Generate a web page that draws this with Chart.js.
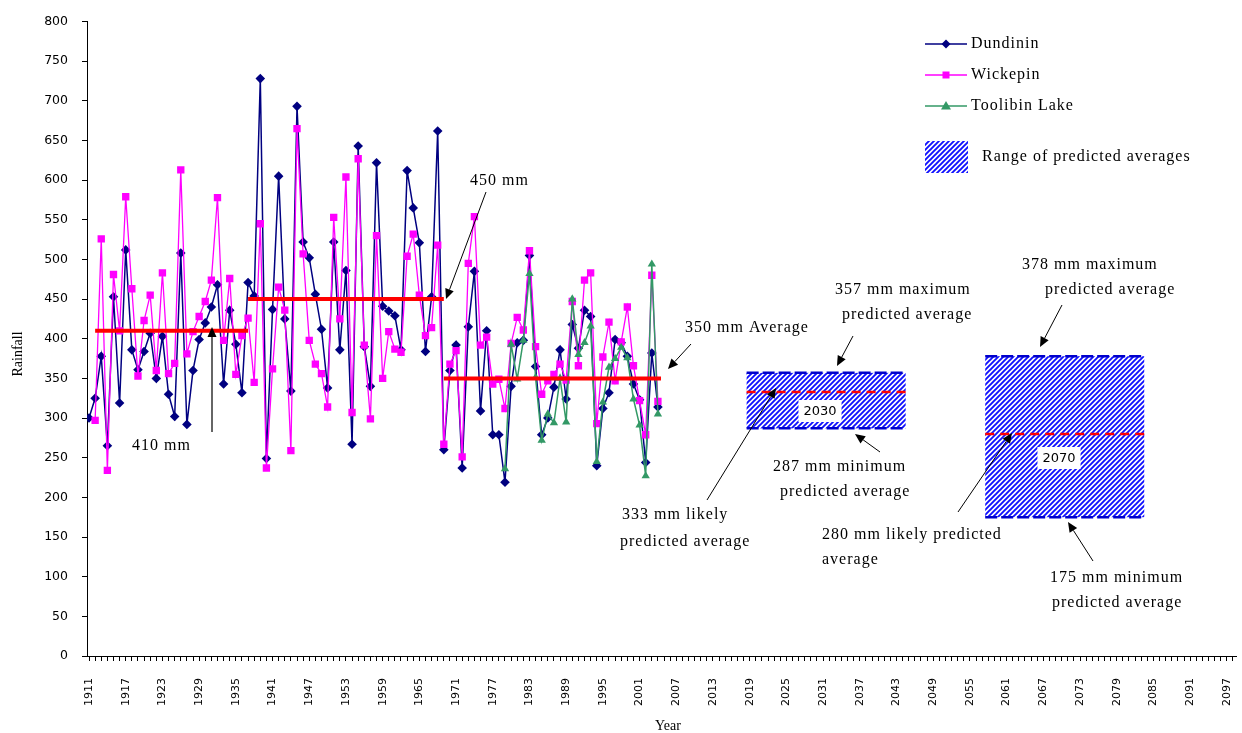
<!DOCTYPE html>
<html>
<head>
<meta charset="utf-8">
<title>Rainfall</title>
<script src="https://cdn.jsdelivr.net/npm/chart.js@4.4.1/dist/chart.umd.min.js"></script>
<style>
  html, body { margin: 0; padding: 0; background: #ffffff; }
  #wrap { width: 1242px; height: 733px; }
</style>
</head>
<body>
<div id="wrap"><canvas id="chart" width="1242" height="733"></canvas></div>
<script>
// ---- annual rainfall (mm), one value per year starting 1911 ----
const firstYear = 1911;
const dundinin = [
  300, 325, 378, 265, 453, 319, 512, 386, 361, 384,
  407, 350, 403, 330, 302, 508, 292, 360, 399, 420,
  440, 468, 343, 436, 393, 332, 471, 454, 728, 249,
  437, 605, 425, 334, 693, 522, 502, 456, 412, 338,
  522, 386, 486, 267, 643, 390, 340, 622, 441, 435,
  429, 386, 612, 565, 521, 384, 453, 662, 260, 360,
  392, 237, 415, 485, 309, 410, 279, 279, 219, 340,
  395, 398, 505, 365, 279, 300, 339, 386, 324, 418,
  388, 436, 428, 240, 312, 332, 399, 395, 378, 343,
  323, 244, 382, 314
];
const wickepin = [
  null, 297, 526, 234, 481, 410, 579, 463, 353, 423,
  455, 360, 483, 356, 369, 613, 381, 409, 428, 447,
  474, 578, 398, 476, 355, 404, 426, 345, 545, 237,
  362, 465, 436, 259, 665, 507, 398, 368, 356, 314,
  553, 425, 604, 307, 627, 392, 299, 530, 350, 409,
  387, 383, 504, 532, 455, 404, 414, 518, 267, 368,
  385, 251, 495, 554, 392, 402, 343, 349, 312, 394,
  427, 411, 511, 390, 330, 347, 355, 368, 348, 447,
  366, 474, 483, 293, 377, 421, 347, 396, 440, 366,
  322, 279, 480, 321
];
// Toolibin Lake record starts in 1979
const toolibinStart = 1979;
const toolibin = [
  236, 393, 349, 398, 482, 351, 272, 305, 294, 350,
  295, 450, 380, 395, 416, 245, 320, 364, 375, 389,
  376, 324, 291, 227, 494, 305
];

// ---- period averages ----
const avgFrom  = [1912, 1937, 1969];
const avgTo    = [1937, 1969, 2004.5];
const avgValue = [410, 450, 350];

// ---- predicted averages for 2030 and 2070 ----
const predLabel  = ['2030', '2070'];
const predFrom   = [2018.5, 2057.5];
const predTo     = [2044.5, 2083.5];
const predMax    = [357, 378];
const predMin    = [287, 175];
const predLikely = [333, 280];

// ---- axis ----
const yearMin = 1910.67, yearMax = 2098.63, firstTick = 1911, labelEvery = 6;
const yMin = 0, yMax = 800, yStep = 50;

const toPoints = (arr, start) => arr.map((v, i) => ({ x: start + i, y: v }));

const NAVY = '#000080', MAGENTA = '#ff00ff', GREEN = '#339966', RED = '#ff0000';
const SERIF = '"Liberation Serif", "Times New Roman", serif';
const SANS = '"DejaVu Sans", Verdana, sans-serif';

const datasets = [];
avgValue.forEach((v, i) => {
  datasets.push({
    label: 'avg' + i,
    data: [{ x: avgFrom[i], y: v }, { x: avgTo[i], y: v }],
    borderColor: RED, borderWidth: 4, pointRadius: 0, order: 0
  });
});
datasets.push({
  label: 'Toolibin Lake', data: toPoints(toolibin, toolibinStart),
  borderColor: GREEN, backgroundColor: GREEN, borderWidth: 1.5,
  pointStyle: 'triangle', pointRadius: 4.8, pointBorderWidth: 0, order: 1
});
datasets.push({
  label: 'Wickepin', data: toPoints(wickepin, firstYear),
  borderColor: MAGENTA, backgroundColor: MAGENTA, borderWidth: 1.3,
  pointStyle: 'rect', pointRadius: 5.2, pointBorderWidth: 0, order: 2
});
datasets.push({
  label: 'Dundinin', data: toPoints(dundinin, firstYear),
  borderColor: NAVY, backgroundColor: NAVY, borderWidth: 1.5,
  pointStyle: 'rectRot', pointRadius: 4.8, pointBorderWidth: 0, order: 3
});

function makeHatch(ctx) {
  const s = 5;
  const c = document.createElement('canvas');
  c.width = s; c.height = s;
  const g = c.getContext('2d');
  g.fillStyle = '#ffffff'; g.fillRect(0, 0, s, s);
  g.strokeStyle = '#1010ff'; g.lineWidth = 1.9;
  g.beginPath();
  g.moveTo(-1, s + 1); g.lineTo(s + 1, -1);
  g.moveTo(-1, 1); g.lineTo(1, -1);
  g.moveTo(s - 1, s + 1); g.lineTo(s + 1, s - 1);
  g.stroke();
  return ctx.createPattern(c, 'repeat');
}

function arrow(ctx, x1, y1, x2, y2, color, width) {
  const ang = Math.atan2(y2 - y1, x2 - x1);
  const hl = 10, hw = 4.5;
  const bx = x2 - hl * Math.cos(ang), by = y2 - hl * Math.sin(ang);
  ctx.save();
  ctx.strokeStyle = color; ctx.lineWidth = width;
  ctx.beginPath(); ctx.moveTo(x1, y1); ctx.lineTo(bx, by); ctx.stroke();
  ctx.fillStyle = '#000';
  ctx.beginPath();
  ctx.moveTo(x2, y2);
  ctx.lineTo(bx + hw * Math.sin(ang), by - hw * Math.cos(ang));
  ctx.lineTo(bx - hw * Math.sin(ang), by + hw * Math.cos(ang));
  ctx.closePath(); ctx.fill();
  ctx.restore();
}

function text(ctx, str, x, y, font) {
  ctx.save();
  ctx.font = font || ('16px ' + SERIF);
  if ('letterSpacing' in ctx) ctx.letterSpacing = '1px';
  ctx.fillStyle = '#000'; ctx.textAlign = 'left'; ctx.textBaseline = 'middle';
  ctx.fillText(str, x, y);
  ctx.restore();
}

// hatched prediction ranges with dashed limits and likely value
const predictionBoxes = {
  id: 'predictionBoxes',
  beforeDatasetsDraw(chart) {
    const { ctx, scales: { x, y } } = chart;
    const pat = makeHatch(ctx);
    predLabel.forEach((lab, i) => {
      const x0 = x.getPixelForValue(predFrom[i]), x1 = x.getPixelForValue(predTo[i]);
      const yTop = y.getPixelForValue(predMax[i]), yBot = y.getPixelForValue(predMin[i]);
      const yMid = y.getPixelForValue(predLikely[i]);
      ctx.save();
      ctx.fillStyle = pat;
      ctx.fillRect(x0, yTop, x1 - x0, yBot - yTop);
      ctx.lineWidth = 2.5; ctx.strokeStyle = '#0000cc'; ctx.setLineDash([12, 4]);
      ctx.beginPath();
      ctx.moveTo(x0, yTop); ctx.lineTo(x1, yTop);
      ctx.moveTo(x0, yBot); ctx.lineTo(x1, yBot);
      ctx.stroke();
      ctx.strokeStyle = RED; ctx.setLineDash([9, 6]); ctx.lineWidth = 2.5;
      ctx.beginPath(); ctx.moveTo(x0, yMid); ctx.lineTo(x1, yMid); ctx.stroke();
      ctx.restore();
    });
  },
  afterDatasetsDraw(chart) {
    const { ctx } = chart;
    // year tags inside the boxes
    const tags = [[820, 411], [1059, 458]];
    predLabel.forEach((lab, i) => {
      ctx.save();
      ctx.font = '13px ' + SANS;
      const w = ctx.measureText(lab).width + 10;
      ctx.fillStyle = '#fff';
      ctx.fillRect(tags[i][0] - w / 2, tags[i][1] - 11, w, 22);
      ctx.fillStyle = '#000'; ctx.textAlign = 'center'; ctx.textBaseline = 'middle';
      ctx.fillText(lab, tags[i][0], tags[i][1] + 1);
      ctx.restore();
    });

    // callouts
    text(ctx, '410 mm', 132, 446);
    arrow(ctx, 212, 432, 212, 327, '#666', 2);
    text(ctx, '450 mm', 470, 181);
    arrow(ctx, 486, 192, 446, 299, '#000', 1);
    text(ctx, '350 mm Average', 685, 328);
    arrow(ctx, 691, 344, 668, 369, '#000', 1);

    text(ctx, '357 mm maximum', 835, 290);
    text(ctx, 'predicted average', 842, 315);
    arrow(ctx, 853, 336, 837, 366, '#000', 1);
    text(ctx, '287 mm minimum', 773, 467);
    text(ctx, 'predicted average', 780, 492);
    arrow(ctx, 880, 452, 855, 434, '#000', 1);
    text(ctx, '333 mm likely', 622, 515);
    text(ctx, 'predicted average', 620, 542);
    arrow(ctx, 707, 500, 776, 388, '#000', 1);

    text(ctx, '378 mm maximum', 1022, 265);
    text(ctx, 'predicted average', 1045, 290);
    arrow(ctx, 1062, 305, 1040, 347, '#000', 1);
    text(ctx, '280 mm likely predicted', 822, 535);
    text(ctx, 'average', 822, 560);
    arrow(ctx, 958, 512, 1012, 433, '#000', 1);
    text(ctx, '175 mm minimum', 1050, 578);
    text(ctx, 'predicted average', 1052, 603);
    arrow(ctx, 1093, 561, 1068, 522, '#000', 1);

    // axis titles
    ctx.save();
    ctx.font = '14px ' + SERIF; ctx.fillStyle = '#000';
    ctx.textAlign = 'center'; ctx.textBaseline = 'middle';
    ctx.fillText('Year', 668, 726);
    ctx.translate(18, 354); ctx.rotate(-Math.PI / 2);
    ctx.fillText('Rainfall', 0, 0);
    ctx.restore();

    // legend
    const items = [
      ['Dundinin', NAVY, 'diamond', 44],
      ['Wickepin', MAGENTA, 'square', 75],
      ['Toolibin Lake', GREEN, 'triangle', 106]
    ];
    items.forEach(([name, col, shape, ly]) => {
      ctx.save();
      ctx.strokeStyle = col; ctx.lineWidth = 1.5;
      ctx.beginPath(); ctx.moveTo(925, ly); ctx.lineTo(967, ly); ctx.stroke();
      ctx.fillStyle = col; ctx.beginPath();
      const cx = 946;
      if (shape === 'diamond') {
        ctx.moveTo(cx, ly - 4.5); ctx.lineTo(cx + 4.5, ly); ctx.lineTo(cx, ly + 4.5); ctx.lineTo(cx - 4.5, ly);
      } else if (shape === 'square') {
        ctx.rect(cx - 3.5, ly - 3.5, 7, 7);
      } else {
        ctx.moveTo(cx, ly - 5); ctx.lineTo(cx + 5, ly + 3.5); ctx.lineTo(cx - 5, ly + 3.5);
      }
      ctx.closePath(); ctx.fill();
      ctx.restore();
      text(ctx, name, 971, ly);
    });
    ctx.save();
    ctx.fillStyle = makeHatch(ctx);
    ctx.fillRect(925, 141, 43, 32);
    ctx.restore();
    text(ctx, 'Range of predicted averages', 982, 157);
  }
};

const allYears = [];
for (let v = firstTick; v <= yearMax; v++) allYears.push(v);

Chart.defaults.font.family = SANS;
Chart.defaults.color = '#000';

new Chart(document.getElementById('chart'), {
  type: 'line',
  data: { datasets },
  options: {
    responsive: false,
    animation: false,
    layout: { padding: { top: 20, right: 0, left: 0, bottom: 0 } },
    elements: { line: { tension: 0 } },
    scales: {
      x: {
        type: 'linear', min: yearMin, max: yearMax,
        afterBuildTicks: s => { s.ticks = allYears.map(v => ({ value: v })); },
        afterFit: s => { s.height = 77; s.paddingLeft = 0; s.paddingRight = 0; },
        ticks: {
          autoSkip: false, minRotation: 90, maxRotation: 90, padding: 17,
          font: { size: 11 }, color: '#000',
          callback: v => ((v - firstTick) % labelEvery === 0 ? String(v) : '')
        },
        grid: { drawOnChartArea: false, drawTicks: true, tickLength: 5, color: '#000' },
        border: { display: true, color: '#000', width: 1 }
      },
      y: {
        min: yMin, max: yMax,
        afterFit: s => { s.width = 87; },
        ticks: { stepSize: yStep, padding: 14, font: { size: 12.5 }, color: '#000' },
        grid: { drawOnChartArea: false, drawTicks: true, tickLength: 5, color: '#000' },
        border: { display: true, color: '#000', width: 1 }
      }
    },
    plugins: { legend: { display: false }, tooltip: { enabled: false } }
  },
  plugins: [predictionBoxes]
});
</script>
</body>
</html>
